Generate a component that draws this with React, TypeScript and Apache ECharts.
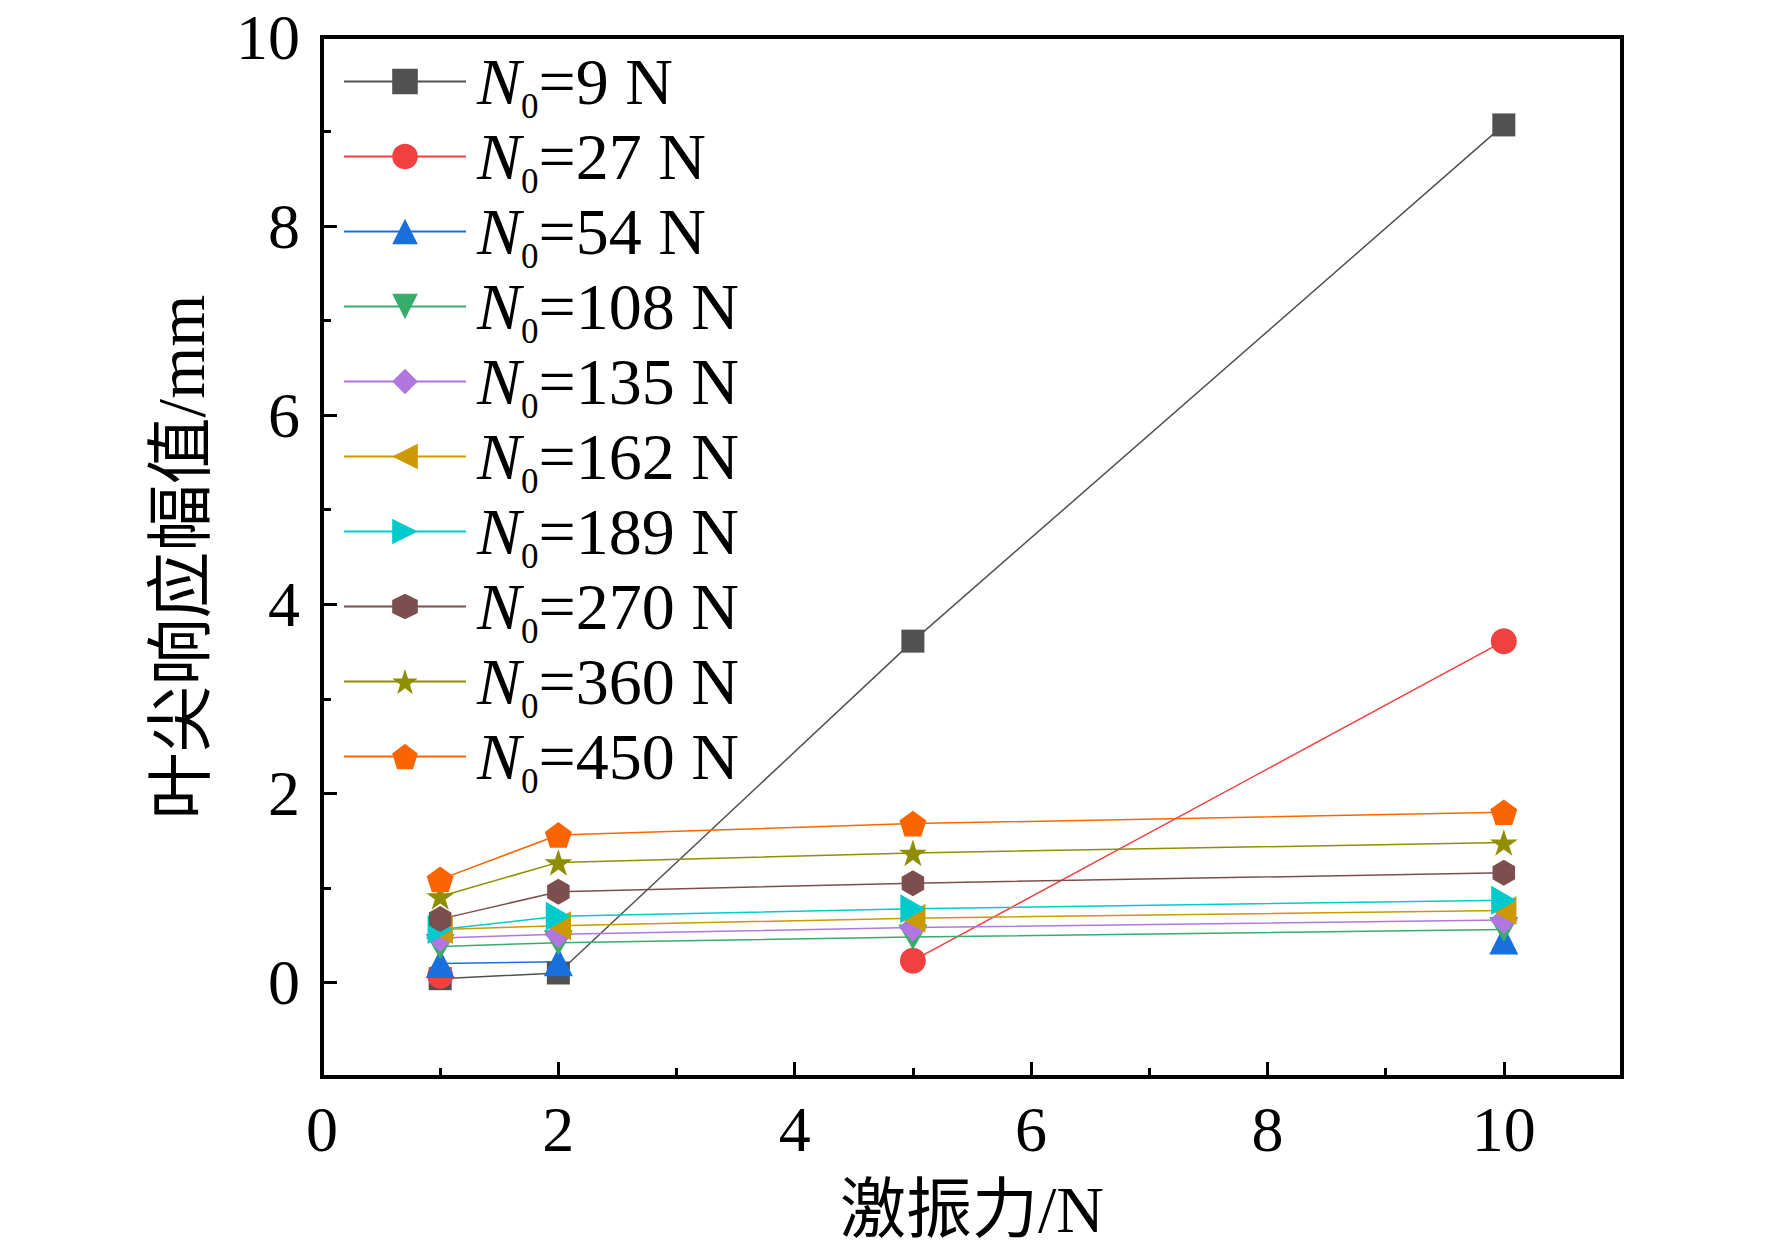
import React, { useEffect, useRef } from "react";
import * as echarts from "echarts";

const FONT = "'Liberation Serif', 'Times New Roman', 'Noto Sans CJK SC', serif";

// Excitation force (x) values
const xValues = [1, 2, 5, 10];

// Series labels (N0 values, in N)
const seriesLabels = ["9", "27", "54", "108", "135", "162", "189", "270", "360", "450"];

// Tip response amplitude (mm) for each N0; null = no point
const amp9 = [0.04, 0.1, 3.61, 9.07];
const amp27 = [0.07, null, 0.23, 3.61];
const amp54 = [0.2, 0.22, null, 0.45];
const amp108 = [0.38, 0.42, 0.48, 0.56];
const amp135 = [0.47, 0.51, 0.58, 0.66];
const amp162 = [0.56, 0.6, 0.68, 0.76];
const amp189 = [0.56, 0.7, 0.78, 0.87];
const amp270 = [0.67, 0.96, 1.05, 1.16];
const amp360 = [0.91, 1.27, 1.37, 1.48];
const amp450 = [1.09, 1.56, 1.68, 1.8];

const seriesValues = [amp9, amp27, amp54, amp108, amp135, amp162, amp189, amp270, amp360, amp450];

const colors = [
  "#515151",
  "#F14040",
  "#1A6FDF",
  "#37AD6B",
  "#B177DE",
  "#CC9900",
  "#00CBCC",
  "#7D4E4E",
  "#8E8E00",
  "#FB6501",
];

const symbols = [
  "rect",
  "circle",
  "triangle",
  "path://M0,0 L100,0 L50,87 Z",
  "diamond",
  "path://M0,50 L87,0 L87,100 Z",
  "path://M0,0 L87,50 L0,100 Z",
  "path://M50,0 L93.3,25 L93.3,75 L50,100 L6.7,75 L6.7,25 Z",
  "path://M50,0 L61.23,34.55 L97.55,34.55 L68.16,55.9 L79.39,90.45 L50,69.1 L20.61,90.45 L31.84,55.9 L2.45,34.55 L38.77,34.55 Z",
  "path://M50,0 L97.55,34.55 L79.39,90.45 L20.61,90.45 L2.45,34.55 Z",
];

const symbolSizes = [23, 26, 29, 29, 28, 29, 29, 26, 28, 27];

const xTickLabels = [0, 2, 4, 6, 8, 10];
const yTickLabels = [0, 2, 4, 6, 8, 10];

export default function App() {
  const ref = useRef<HTMLDivElement>(null);

  useEffect(() => {
    if (!ref.current) return;
    const chart = echarts.init(ref.current, null, { renderer: "svg" });

    const axisLineStyle = { color: "#000", width: 4 };
    const tickStyle = { color: "#000", width: 3 };

    const series = seriesLabels.map((label, i) => ({
      name: label,
      type: "line",
      xAxisIndex: 0,
      yAxisIndex: 0,
      data: xValues.map((x, j) => [x, seriesValues[i][j] === null ? "-" : seriesValues[i][j]]),
      symbol: symbols[i],
      symbolSize: symbolSizes[i],
      symbolKeepAspect: true,
      showSymbol: true,
      connectNulls: false,
      lineStyle: { color: colors[i], width: 1.5 },
      itemStyle: { color: colors[i] },
      emphasis: { disabled: true },
    }));

    const option: any = {
      animation: false,
      backgroundColor: "#fff",
      grid: {
        left: 322,
        right: 150,
        top: 37,
        bottom: 177,
        show: true,
        borderColor: "#000",
        borderWidth: 4,
        backgroundColor: "transparent",
      },
      legend: {
        orient: "vertical",
        left: 338,
        top: 34,
        itemWidth: 122,
        itemHeight: 32,
        itemGap: -10,
        selectedMode: false,
        data: seriesLabels,
        formatter: (name: string) => `{i|N}{s|0}{t|=${name} N}`,
        textStyle: {
          color: "#000",
          fontFamily: FONT,
          fontSize: 66,
          rich: {
            i: { fontFamily: FONT, fontSize: 66, fontStyle: "italic", color: "#000", lineHeight: 64, padding: [0, 0, 0, 6] },
            s: { fontFamily: FONT, fontSize: 35, color: "#000", lineHeight: 64, padding: [50, 0, 0, 0] },
            t: { fontFamily: FONT, fontSize: 66, color: "#000", lineHeight: 64 },
          },
        },
      },
      xAxis: [
        {
          type: "value",
          min: 0,
          max: 11,
          interval: 2,
          position: "bottom",
          axisLine: { show: true, onZero: false, lineStyle: axisLineStyle },
          axisTick: { show: true, inside: true, length: 15, lineStyle: tickStyle },
          axisLabel: {
            show: true,
            margin: 20,
            color: "#000",
            fontFamily: FONT,
            fontSize: 64,
            formatter: (v: number) => (xTickLabels.indexOf(v) >= 0 ? String(v) : ""),
          },
          splitLine: { show: false },
          name: "激振力/N",
          nameLocation: "middle",
          nameGap: 99,
          nameTextStyle: { color: "#000", fontFamily: FONT, fontSize: 66 },
        },
        {
          type: "value",
          min: 0,
          max: 11,
          interval: 1,
          position: "bottom",
          offset: 0,
          axisLine: { show: false, onZero: false },
          axisTick: { show: true, inside: true, length: 9, lineStyle: tickStyle },
          axisLabel: { show: false },
          splitLine: { show: false },
        },
      ],
      yAxis: [
        {
          type: "value",
          min: -1,
          max: 10,
          splitNumber: 5,
          position: "left",
          axisLine: { show: true, onZero: false, lineStyle: axisLineStyle },
          axisTick: { show: true, inside: true, length: 15, lineStyle: tickStyle },
          axisLabel: {
            show: true,
            margin: 22,
            color: "#000",
            fontFamily: FONT,
            fontSize: 64,
            formatter: (v: number) => (yTickLabels.indexOf(v) >= 0 ? String(v) : ""),
          },
          splitLine: { show: false },
          name: "叶尖响应幅值/mm",
          nameLocation: "middle",
          nameGap: 108,
          nameRotate: 90,
          nameTextStyle: { color: "#000", fontFamily: FONT, fontSize: 67 },
        },
        {
          type: "value",
          min: -1,
          max: 10,
          interval: 1,
          position: "left",
          offset: 0,
          axisLine: { show: false, onZero: false },
          axisTick: { show: true, inside: true, length: 9, lineStyle: tickStyle },
          axisLabel: { show: false },
          splitLine: { show: false },
        },
      ],
      series,
    };

    chart.setOption(option);
    return () => {
      chart.dispose();
    };
  }, []);

  return (
    <div
      ref={ref}
      style={{ position: "fixed", left: 0, top: 0, width: 1772, height: 1254, background: "#fff" }}
    />
  );
}
